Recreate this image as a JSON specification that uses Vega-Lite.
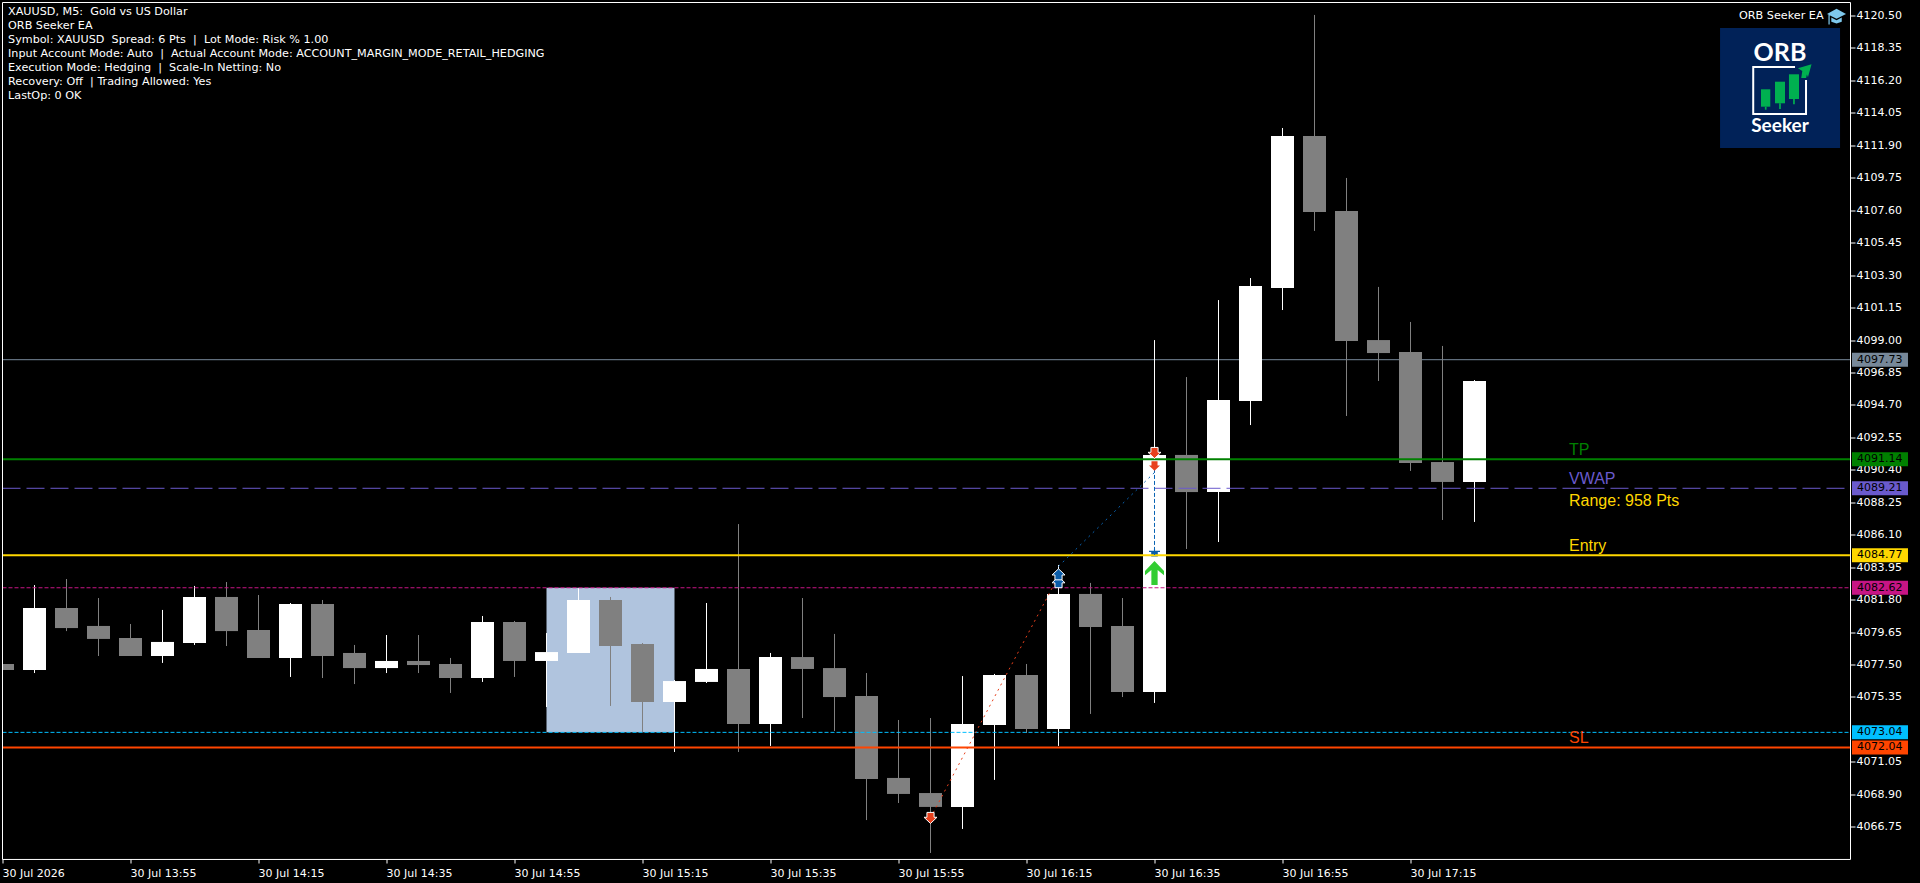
{
"$schema":"https://vega.github.io/schema/vega-lite/v6.json",
"width":1920,"height":883,"padding":0,"autosize":{"type":"none"},
"background":"#000000",
"config":{"view":{"stroke":null},"font":"DejaVu Sans","text":{"font":"DejaVu Sans"},"scale":{"continuousPadding":0}},
"datasets":{
"candles":[
{"t":"2026-07-30T13:35:00Z","o":4077.57,"h":4077.57,"l":4077.17,"c":4077.17},
{"t":"2026-07-30T13:40:00Z","o":4077.17,"h":4082.80,"l":4076.97,"c":4081.28},
{"t":"2026-07-30T13:45:00Z","o":4081.28,"h":4083.20,"l":4079.75,"c":4079.95},
{"t":"2026-07-30T13:50:00Z","o":4080.09,"h":4081.94,"l":4078.10,"c":4079.23},
{"t":"2026-07-30T13:55:00Z","o":4079.29,"h":4080.22,"l":4078.10,"c":4078.10},
{"t":"2026-07-30T14:00:00Z","o":4078.10,"h":4081.15,"l":4077.64,"c":4079.03},
{"t":"2026-07-30T14:05:00Z","o":4078.96,"h":4082.74,"l":4078.83,"c":4082.01},
{"t":"2026-07-30T14:10:00Z","o":4082.01,"h":4083.00,"l":4078.76,"c":4079.75},
{"t":"2026-07-30T14:15:00Z","o":4079.82,"h":4082.14,"l":4077.97,"c":4077.97},
{"t":"2026-07-30T14:20:00Z","o":4077.97,"h":4081.61,"l":4076.71,"c":4081.54},
{"t":"2026-07-30T14:25:00Z","o":4081.54,"h":4081.81,"l":4076.64,"c":4078.10},
{"t":"2026-07-30T14:30:00Z","o":4078.30,"h":4078.83,"l":4076.24,"c":4077.30},
{"t":"2026-07-30T14:35:00Z","o":4077.30,"h":4079.49,"l":4076.97,"c":4077.77},
{"t":"2026-07-30T14:40:00Z","o":4077.77,"h":4079.49,"l":4076.97,"c":4077.50},
{"t":"2026-07-30T14:45:00Z","o":4077.57,"h":4077.97,"l":4075.65,"c":4076.64},
{"t":"2026-07-30T14:50:00Z","o":4076.64,"h":4080.75,"l":4076.38,"c":4080.35},
{"t":"2026-07-30T14:55:00Z","o":4080.35,"h":4080.42,"l":4076.71,"c":4077.77},
{"t":"2026-07-30T15:00:00Z","o":4077.77,"h":4079.62,"l":4074.72,"c":4078.36},
{"t":"2026-07-30T15:05:00Z","o":4078.30,"h":4082.60,"l":4078.30,"c":4081.81},
{"t":"2026-07-30T15:10:00Z","o":4081.81,"h":4082.01,"l":4074.79,"c":4078.76},
{"t":"2026-07-30T15:15:00Z","o":4078.89,"h":4078.96,"l":4073.06,"c":4075.05},
{"t":"2026-07-30T15:20:00Z","o":4075.05,"h":4076.51,"l":4071.74,"c":4076.44},
{"t":"2026-07-30T15:25:00Z","o":4076.38,"h":4081.61,"l":4076.31,"c":4077.24},
{"t":"2026-07-30T15:30:00Z","o":4077.24,"h":4086.84,"l":4071.74,"c":4073.59},
{"t":"2026-07-30T15:35:00Z","o":4073.59,"h":4078.30,"l":4072.14,"c":4078.03},
{"t":"2026-07-30T15:40:00Z","o":4078.03,"h":4081.94,"l":4073.99,"c":4077.24},
{"t":"2026-07-30T15:45:00Z","o":4077.30,"h":4079.56,"l":4073.13,"c":4075.38},
{"t":"2026-07-30T15:50:00Z","o":4075.45,"h":4076.97,"l":4067.23,"c":4069.95},
{"t":"2026-07-30T15:55:00Z","o":4070.02,"h":4073.86,"l":4068.36,"c":4068.96},
{"t":"2026-07-30T16:00:00Z","o":4069.02,"h":4073.99,"l":4065.05,"c":4068.10},
{"t":"2026-07-30T16:05:00Z","o":4068.10,"h":4076.77,"l":4066.64,"c":4073.59},
{"t":"2026-07-30T16:10:00Z","o":4073.53,"h":4076.91,"l":4069.89,"c":4076.84},
{"t":"2026-07-30T16:15:00Z","o":4076.84,"h":4077.57,"l":4073.00,"c":4073.26},
{"t":"2026-07-30T16:20:00Z","o":4073.26,"h":4084.13,"l":4072.14,"c":4082.21},
{"t":"2026-07-30T16:25:00Z","o":4082.21,"h":4082.94,"l":4074.26,"c":4080.02},
{"t":"2026-07-30T16:30:00Z","o":4080.09,"h":4081.94,"l":4075.38,"c":4075.71},
{"t":"2026-07-30T16:35:00Z","o":4075.71,"h":4099.03,"l":4074.99,"c":4091.42},
{"t":"2026-07-30T16:40:00Z","o":4091.42,"h":4096.58,"l":4085.19,"c":4088.96},
{"t":"2026-07-30T16:45:00Z","o":4088.96,"h":4101.68,"l":4085.65,"c":4095.06},
{"t":"2026-07-30T16:50:00Z","o":4095.00,"h":4103.14,"l":4093.40,"c":4102.61},
{"t":"2026-07-30T16:55:00Z","o":4102.48,"h":4113.08,"l":4101.02,"c":4112.55},
{"t":"2026-07-30T17:00:00Z","o":4112.55,"h":4120.57,"l":4106.26,"c":4107.51},
{"t":"2026-07-30T17:05:00Z","o":4107.58,"h":4109.77,"l":4094.00,"c":4098.97},
{"t":"2026-07-30T17:10:00Z","o":4099.03,"h":4102.55,"l":4096.32,"c":4098.17},
{"t":"2026-07-30T17:15:00Z","o":4098.24,"h":4100.23,"l":4090.36,"c":4090.89},
{"t":"2026-07-30T17:20:00Z","o":4090.95,"h":4098.64,"l":4087.11,"c":4089.63},
{"t":"2026-07-30T17:25:00Z","o":4089.63,"h":4096.38,"l":4086.98,"c":4096.32}
],
"levels":[
{"level":"Price","p":4097.73},
{"level":"TP","p":4091.14},
{"level":"VWAP","p":4089.21},
{"level":"Entry","p":4084.77},
{"level":"RangeHigh","p":4082.62},
{"level":"RangeLow","p":4073.04},
{"level":"SL","p":4072.04}
]
},
"layer":[
{"data":{"values":[{"level":"Opening range"}]},
 "mark":{"type":"rect","color":"#B0C4DE"},
 "encoding":{
  "x":{"datum":{"year":2026,"month":7,"date":30,"hours":15,"minutes":0,"utc":true},"type":"temporal","scale":{"type":"utc","domain":[1785418476562.5,1785436476562.5],"range":[0,1920],"nice":false}},
  "x2":{"datum":{"year":2026,"month":7,"date":30,"hours":15,"minutes":20,"utc":true}},
  "y":{"datum":4082.62,"type":"quantitative","scale":{"domain":[4063.06,4121.56],"range":[883,0],"nice":false,"zero":false}},
  "y2":{"datum":4073.04}}},
{"data":{"name":"levels"},"transform":[{"filter":"datum.level=='Price'"}],
 "mark":{"type":"rule","strokeWidth":1,"color":"#778899"},
 "encoding":{
  "x":{"datum":{"year":2026,"month":7,"date":30,"hours":13,"minutes":35,"utc":true},"type":"temporal","scale":{"type":"utc","domain":[1785418476562.5,1785436476562.5],"range":[0,1920],"nice":false}},
  "x2":{"datum":{"year":2026,"month":7,"date":30,"hours":18,"minutes":23,"seconds":40,"utc":true}},
  "y":{"field":"p","type":"quantitative","scale":{"domain":[4063.06,4121.56],"range":[883,0],"nice":false,"zero":false}}}},
{"data":{"name":"candles"},
 "mark":{"type":"rule","strokeWidth":1},
 "encoding":{
  "x":{"field":"t","type":"temporal","scale":{"type":"utc","domain":[1785418476562.5,1785436476562.5],"range":[0,1920],"nice":false},
   "axis":{"orient":"bottom","offset":-23.5,"title":null,"grid":false,"domain":false,"translate":0,"tickColor":"#ffffff","tickSize":4,"tickWidth":1,"labelColor":"#ffffff","labelFont":"DejaVu Sans","labelFontSize":11,"labelAlign":"left","labelBaseline":"top","labelPadding":4,"labelOverlap":false,"labelFlush":false,"labelBound":false,
    "values":[{"year":2026,"month":7,"date":30,"hours":13,"minutes":35,"utc":true},{"year":2026,"month":7,"date":30,"hours":13,"minutes":55,"utc":true},{"year":2026,"month":7,"date":30,"hours":14,"minutes":15,"utc":true},{"year":2026,"month":7,"date":30,"hours":14,"minutes":35,"utc":true},{"year":2026,"month":7,"date":30,"hours":14,"minutes":55,"utc":true},{"year":2026,"month":7,"date":30,"hours":15,"minutes":15,"utc":true},{"year":2026,"month":7,"date":30,"hours":15,"minutes":35,"utc":true},{"year":2026,"month":7,"date":30,"hours":15,"minutes":55,"utc":true},{"year":2026,"month":7,"date":30,"hours":16,"minutes":15,"utc":true},{"year":2026,"month":7,"date":30,"hours":16,"minutes":35,"utc":true},{"year":2026,"month":7,"date":30,"hours":16,"minutes":55,"utc":true},{"year":2026,"month":7,"date":30,"hours":17,"minutes":15,"utc":true}],
    "labelExpr":"utcFormat(datum.value,'%H:%M')=='13:35' ? '30 Jul 2026' : utcFormat(datum.value,'%d %b %H:%M')"}},
  "y":{"field":"h","type":"quantitative","scale":{"domain":[4063.06,4121.56],"range":[883,0],"nice":false,"zero":false},
   "axis":{"orient":"right","offset":-69.5,"title":null,"grid":false,"domain":false,"translate":0,"tickCount":40,"tickColor":"#ffffff","tickSize":5,"tickWidth":1,"labelColor":"#ffffff","labelFont":"DejaVu Sans","labelFontSize":11,"labelAlign":"left","labelBaseline":"middle","labelPadding":1,"labelOverlap":false,"labelFlush":false,"labelBound":false,"format":".2f",
    "values":[4120.50,4118.35,4116.20,4114.05,4111.90,4109.75,4107.60,4105.45,4103.30,4101.15,4099.00,4096.85,4094.70,4092.55,4090.40,4088.25,4086.10,4083.95,4081.80,4079.65,4077.50,4075.35,4071.05,4068.90,4066.75]}},
  "y2":{"field":"l"},
  "color":{"condition":{"test":"datum.c>=datum.o","value":"#ffffff"},"value":"#808080"}}},
{"data":{"name":"candles"},
 "mark":{"type":"bar","size":23,"orient":"vertical"},
 "encoding":{
  "x":{"field":"t","type":"temporal","scale":{"type":"utc","domain":[1785418476562.5,1785436476562.5],"range":[0,1920],"nice":false}},
  "y":{"field":"o","type":"quantitative","scale":{"domain":[4063.06,4121.56],"range":[883,0],"nice":false,"zero":false}},
  "y2":{"field":"c"},
  "color":{"condition":{"test":"datum.c>=datum.o","value":"#ffffff"},"value":"#808080"}}},
{"data":{"values":[{"t":"2026-07-30T16:35:00Z","p":4084.95}]},
 "mark":{"type":"point","filled":true,"opacity":1,"size":121,"color":"#0A5CA8","strokeWidth":0,"shape":"M0,-0.7 L0.1,-0.7 L0.1,-0.35 L1,-0.35 L1,-0.1 L0.6,-0.1 L0.6,0.7 L-0.6,0.7 L-0.6,-0.1 L-1,-0.1 L-1,-0.35 L-0.1,-0.35 L-0.1,-0.7 Z"},
 "encoding":{
  "x":{"field":"t","type":"temporal","scale":{"type":"utc","domain":[1785418476562.5,1785436476562.5],"range":[0,1920],"nice":false}},
  "y":{"field":"p","type":"quantitative","scale":{"domain":[4063.06,4121.56],"range":[883,0],"nice":false,"zero":false}}}},
{"data":{"name":"levels"},"transform":[{"filter":"datum.level=='TP'||datum.level=='Entry'||datum.level=='SL'"}],
 "mark":{"type":"rule","strokeWidth":2},
 "encoding":{
  "x":{"datum":{"year":2026,"month":7,"date":30,"hours":13,"minutes":35,"utc":true},"type":"temporal","scale":{"type":"utc","domain":[1785418476562.5,1785436476562.5],"range":[0,1920],"nice":false}},
  "x2":{"datum":{"year":2026,"month":7,"date":30,"hours":18,"minutes":23,"seconds":40,"utc":true}},
  "y":{"field":"p","type":"quantitative","scale":{"domain":[4063.06,4121.56],"range":[883,0],"nice":false,"zero":false}},
  "color":{"field":"level","type":"nominal","legend":null,"scale":{"domain":["Price","TP","VWAP","Entry","RangeHigh","RangeLow","SL"],"range":["#778899","#008000","#6A5ACD","#FFD700","#C71585","#00BFFF","#FF4500"]}}}},
{"data":{"name":"levels"},"transform":[{"filter":"datum.level=='VWAP'"}],
 "mark":{"type":"rule","strokeWidth":1,"strokeDash":[18,6]},
 "encoding":{
  "x":{"datum":{"year":2026,"month":7,"date":30,"hours":13,"minutes":35,"utc":true},"type":"temporal","scale":{"type":"utc","domain":[1785418476562.5,1785436476562.5],"range":[0,1920],"nice":false}},
  "x2":{"datum":{"year":2026,"month":7,"date":30,"hours":18,"minutes":23,"seconds":40,"utc":true}},
  "y":{"field":"p","type":"quantitative","scale":{"domain":[4063.06,4121.56],"range":[883,0],"nice":false,"zero":false}},
  "color":{"field":"level","type":"nominal","legend":null,"scale":{"domain":["Price","TP","VWAP","Entry","RangeHigh","RangeLow","SL"],"range":["#778899","#008000","#6A5ACD","#FFD700","#C71585","#00BFFF","#FF4500"]}}}},
{"data":{"name":"levels"},"transform":[{"filter":"datum.level=='RangeHigh'||datum.level=='RangeLow'"}],
 "mark":{"type":"rule","strokeWidth":1,"strokeDash":[4,2]},
 "encoding":{
  "x":{"datum":{"year":2026,"month":7,"date":30,"hours":13,"minutes":35,"utc":true},"type":"temporal","scale":{"type":"utc","domain":[1785418476562.5,1785436476562.5],"range":[0,1920],"nice":false}},
  "x2":{"datum":{"year":2026,"month":7,"date":30,"hours":18,"minutes":23,"seconds":40,"utc":true}},
  "y":{"field":"p","type":"quantitative","scale":{"domain":[4063.06,4121.56],"range":[883,0],"nice":false,"zero":false}},
  "color":{"field":"level","type":"nominal","legend":null,"scale":{"domain":["Price","TP","VWAP","Entry","RangeHigh","RangeLow","SL"],"range":["#778899","#008000","#6A5ACD","#FFD700","#C71585","#00BFFF","#FF4500"]}}}},
{"data":{"values":[{"t":"2026-07-30T16:00:00Z","p":4067.37},{"t":"2026-07-30T16:20:00Z","p":4083.40}]},
 "mark":{"type":"line","color":"#E8401C","strokeWidth":1,"strokeDash":[2,4]},
 "encoding":{
  "x":{"field":"t","type":"temporal","scale":{"type":"utc","domain":[1785418476562.5,1785436476562.5],"range":[0,1920],"nice":false}},
  "y":{"field":"p","type":"quantitative","scale":{"domain":[4063.06,4121.56],"range":[883,0],"nice":false,"zero":false}}}},
{"data":{"values":[{"t":"2026-07-30T16:20:00Z","p":4084.04},{"t":"2026-07-30T16:35:00Z","p":4090.26}]},
 "mark":{"type":"line","color":"#0A64B4","strokeWidth":1,"strokeDash":[2,4]},
 "encoding":{
  "x":{"field":"t","type":"temporal","scale":{"type":"utc","domain":[1785418476562.5,1785436476562.5],"range":[0,1920],"nice":false}},
  "y":{"field":"p","type":"quantitative","scale":{"domain":[4063.06,4121.56],"range":[883,0],"nice":false,"zero":false}}}},
{"data":{"values":[{"t":"2026-07-30T16:35:00Z","p":4090.89},{"t":"2026-07-30T16:35:00Z","p":4084.79}]},
 "mark":{"type":"line","color":"#0A64B4","strokeWidth":1,"strokeDash":[4,2]},
 "encoding":{
  "x":{"field":"t","type":"temporal","scale":{"type":"utc","domain":[1785418476562.5,1785436476562.5],"range":[0,1920],"nice":false}},
  "y":{"field":"p","type":"quantitative","scale":{"domain":[4063.06,4121.56],"range":[883,0],"nice":false,"zero":false}}}},
{"data":{"values":[{"t":"2026-07-30T16:00:00Z","p":4067.37},{"t":"2026-07-30T16:35:00Z","p":4091.55}]},
 "mark":{"type":"point","filled":true,"opacity":1,"size":169,"color":"#E8401C","stroke":"#ffffff","strokeWidth":1,"shape":"M-0.55,-0.85 L0.55,-0.85 L0.55,-0.1 L1,-0.1 L0,0.85 L-1,-0.1 L-0.55,-0.1 Z"},
 "encoding":{
  "x":{"field":"t","type":"temporal","scale":{"type":"utc","domain":[1785418476562.5,1785436476562.5],"range":[0,1920],"nice":false}},
  "y":{"field":"p","type":"quantitative","scale":{"domain":[4063.06,4121.56],"range":[883,0],"nice":false,"zero":false}}}},
{"data":{"values":[{"t":"2026-07-30T16:35:00Z","p":4090.69}]},
 "mark":{"type":"point","filled":true,"opacity":1,"size":121,"color":"#E8401C","strokeWidth":0,"shape":"M-0.55,-0.85 L0.55,-0.85 L0.55,-0.1 L1,-0.1 L0,0.85 L-1,-0.1 L-0.55,-0.1 Z"},
 "encoding":{
  "x":{"field":"t","type":"temporal","scale":{"type":"utc","domain":[1785418476562.5,1785436476562.5],"range":[0,1920],"nice":false}},
  "y":{"field":"p","type":"quantitative","scale":{"domain":[4063.06,4121.56],"range":[883,0],"nice":false,"zero":false}}}},
{"data":{"values":[{"t":"2026-07-30T16:20:00Z","p":4082.99},{"t":"2026-07-30T16:20:00Z","p":4083.51}]},
 "mark":{"type":"point","filled":true,"opacity":1,"size":169,"color":"#0A5CA8","stroke":"#ffffff","strokeWidth":1,"shape":"M0,-0.85 L1,0.1 L0.55,0.1 L0.55,0.85 L-0.55,0.85 L-0.55,0.1 L-1,0.1 Z"},
 "encoding":{
  "x":{"field":"t","type":"temporal","scale":{"type":"utc","domain":[1785418476562.5,1785436476562.5],"range":[0,1920],"nice":false}},
  "y":{"field":"p","type":"quantitative","scale":{"domain":[4063.06,4121.56],"range":[883,0],"nice":false,"zero":false}}}},
{"data":{"values":[{"t":"2026-07-30T16:35:00Z","p":4083.60}]},
 "mark":{"type":"point","filled":true,"opacity":1,"size":361,"color":"#32CD32","strokeWidth":0,"shape":"M0,-1.26 L1,-0.2 L1,0.25 L0.33,-0.3 L0.33,1.26 L-0.33,1.26 L-0.33,-0.3 L-1,0.25 L-1,-0.2 Z"},
 "encoding":{
  "x":{"field":"t","type":"temporal","scale":{"type":"utc","domain":[1785418476562.5,1785436476562.5],"range":[0,1920],"nice":false}},
  "y":{"field":"p","type":"quantitative","scale":{"domain":[4063.06,4121.56],"range":[883,0],"nice":false,"zero":false}}}},
{"data":{"values":[{"text":"TP","p":4091.42,"level":"TP"},{"text":"VWAP","p":4089.51,"level":"VWAP"},{"text":"Range: 958 Pts","p":4088.04,"level":"Entry"},{"text":"Entry","p":4085.08,"level":"Entry"},{"text":"SL","p":4072.32,"level":"SL"}]},
 "mark":{"type":"text","align":"left","baseline":"alphabetic","font":"Liberation Sans","fontSize":16},
 "encoding":{
  "x":{"datum":{"year":2026,"month":7,"date":30,"hours":17,"minutes":39,"seconds":46,"utc":true},"type":"temporal","scale":{"type":"utc","domain":[1785418476562.5,1785436476562.5],"range":[0,1920],"nice":false}},
  "y":{"field":"p","type":"quantitative","scale":{"domain":[4063.06,4121.56],"range":[883,0],"nice":false,"zero":false}},
  "text":{"field":"text"},
  "color":{"field":"level","type":"nominal","legend":null,"scale":{"domain":["Price","TP","VWAP","Entry","RangeHigh","RangeLow","SL"],"range":["#778899","#008000","#6A5ACD","#FFD700","#C71585","#00BFFF","#FF4500"]}}}},
{"data":{"name":"levels"},
 "mark":{"type":"rule","strokeWidth":14},
 "encoding":{
  "x":{"datum":{"year":2026,"month":7,"date":30,"hours":18,"minutes":23,"seconds":59,"utc":true},"type":"temporal","scale":{"type":"utc","domain":[1785418476562.5,1785436476562.5],"range":[0,1920],"nice":false}},
  "x2":{"datum":{"year":2026,"month":7,"date":30,"hours":18,"minutes":32,"seconds":44,"utc":true}},
  "y":{"field":"p","type":"quantitative","scale":{"domain":[4063.06,4121.56],"range":[883,0],"nice":false,"zero":false}},
  "color":{"field":"level","type":"nominal","legend":null,"scale":{"domain":["Price","TP","VWAP","Entry","RangeHigh","RangeLow","SL"],"range":["#778899","#008000","#6A5ACD","#FFD700","#C71585","#00BFFF","#FF4500"]}}}},
{"data":{"name":"levels"},
 "mark":{"type":"text","align":"left","baseline":"middle","font":"DejaVu Sans","fontSize":11,"color":"#000000"},
 "encoding":{
  "x":{"datum":{"year":2026,"month":7,"date":30,"hours":18,"minutes":24,"seconds":46,"utc":true},"type":"temporal","scale":{"type":"utc","domain":[1785418476562.5,1785436476562.5],"range":[0,1920],"nice":false}},
  "y":{"field":"p","type":"quantitative","scale":{"domain":[4063.06,4121.56],"range":[883,0],"nice":false,"zero":false}},
  "text":{"field":"p","format":".2f"}}},
{"data":{"values":[{"text":"XAUUSD, M5:\u00a0 Gold vs US Dollar","p":4120.77},{"text":"ORB Seeker EA","p":4119.84},{"text":"Symbol: XAUUSD\u00a0 Spread: 6 Pts\u00a0 |\u00a0 Lot Mode: Risk % 1.00","p":4118.91},{"text":"Input Account Mode: Auto\u00a0 |\u00a0 Actual Account Mode: ACCOUNT_MARGIN_MODE_RETAIL_HEDGING","p":4117.98},{"text":"Execution Mode: Hedging\u00a0 |\u00a0 Scale-In Netting: No","p":4117.05},{"text":"Recovery: Off\u00a0 | Trading Allowed: Yes","p":4116.13},{"text":"LastOp: 0 OK","p":4115.20}]},
 "mark":{"type":"text","align":"left","baseline":"middle","font":"DejaVu Sans","fontSize":11.2,"color":"#ffffff"},
 "encoding":{
  "x":{"datum":{"year":2026,"month":7,"date":30,"hours":13,"minutes":35,"seconds":52,"utc":true},"type":"temporal","scale":{"type":"utc","domain":[1785418476562.5,1785436476562.5],"range":[0,1920],"nice":false}},
  "y":{"field":"p","type":"quantitative","scale":{"domain":[4063.06,4121.56],"range":[883,0],"nice":false,"zero":false}},
  "text":{"field":"text"}}},
{"data":{"values":[{"text":"ORB Seeker EA","p":4120.48}]},
 "mark":{"type":"text","align":"left","baseline":"middle","font":"DejaVu Sans","fontSize":11.2,"color":"#ffffff"},
 "encoding":{
  "x":{"datum":{"year":2026,"month":7,"date":30,"hours":18,"minutes":6,"seconds":20,"utc":true},"type":"temporal","scale":{"type":"utc","domain":[1785418476562.5,1785436476562.5],"range":[0,1920],"nice":false}},
  "y":{"field":"p","type":"quantitative","scale":{"domain":[4063.06,4121.56],"range":[883,0],"nice":false,"zero":false}},
  "text":{"field":"text"}}},
{"data":{"values":[{"t":"2026-07-30T18:21:34Z","p":4120.5}]},
 "mark":{"type":"point","filled":true,"opacity":1,"size":361,"color":"#7EC8EC","strokeWidth":0,"shape":"M-1,-0.2 L0,-0.75 L1,-0.2 L0,0.3 Z M-0.55,0.15 L0,0.45 L0.55,0.15 L0.55,0.6 L0,0.8 L-0.55,0.6 Z M-0.85,-0.1 L-0.72,-0.1 L-0.72,0.9 L-0.85,0.9 Z"},
 "encoding":{
  "x":{"field":"t","type":"temporal","scale":{"type":"utc","domain":[1785418476562.5,1785436476562.5],"range":[0,1920],"nice":false}},
  "y":{"field":"p","type":"quantitative","scale":{"domain":[4063.06,4121.56],"range":[883,0],"nice":false,"zero":false}}}},
{"data":{"values":[{"part":"logo"}]},
 "mark":{"type":"rect","color":"#012258"},
 "encoding":{
  "x":{"datum":{"year":2026,"month":7,"date":30,"hours":18,"minutes":3,"seconds":22,"utc":true},"type":"temporal","scale":{"type":"utc","domain":[1785418476562.5,1785436476562.5],"range":[0,1920],"nice":false}},
  "x2":{"datum":{"year":2026,"month":7,"date":30,"hours":18,"minutes":22,"seconds":7,"utc":true}},
  "y":{"datum":4119.705,"type":"quantitative","scale":{"domain":[4063.06,4121.56],"range":[883,0],"nice":false,"zero":false}},
  "y2":{"datum":4111.755}}},
{"data":{"values":[
 {"t":"2026-07-30T18:16:48Z","p":4116.26,"k":1},
 {"t":"2026-07-30T18:16:48Z","p":4114.0,"k":2},
 {"t":"2026-07-30T18:08:33Z","p":4114.0,"k":3},
 {"t":"2026-07-30T18:08:33Z","p":4117.121,"k":4},
 {"t":"2026-07-30T18:15:05Z","p":4117.121,"k":5}]},
 "mark":{"type":"line","color":"#ffffff","strokeWidth":2},
 "encoding":{
  "x":{"field":"t","type":"temporal","scale":{"type":"utc","domain":[1785418476562.5,1785436476562.5],"range":[0,1920],"nice":false}},
  "y":{"field":"p","type":"quantitative","scale":{"domain":[4063.06,4121.56],"range":[883,0],"nice":false,"zero":false}},
  "order":{"field":"k"}}},
{"data":{"values":[
 {"t":"2026-07-30T18:09:46Z","t2":"2026-07-30T18:11:13Z","p":4115.644,"p2":4114.491},
 {"t":"2026-07-30T18:10:22Z","t2":"2026-07-30T18:10:38Z","p":4114.491,"p2":4114.292},
 {"t":"2026-07-30T18:11:57Z","t2":"2026-07-30T18:13:31Z","p":4116.147,"p2":4114.716},
 {"t":"2026-07-30T18:12:36Z","t2":"2026-07-30T18:12:52Z","p":4114.716,"p2":4114.339},
 {"t":"2026-07-30T18:14:08Z","t2":"2026-07-30T18:15:42Z","p":4116.638,"p2":4114.999},
 {"t":"2026-07-30T18:14:47Z","t2":"2026-07-30T18:15:03Z","p":4114.999,"p2":4114.650}]},
 "mark":{"type":"rect","color":"#00B050"},
 "encoding":{
  "x":{"field":"t","type":"temporal","scale":{"type":"utc","domain":[1785418476562.5,1785436476562.5],"range":[0,1920],"nice":false}},
  "x2":{"field":"t2"},
  "y":{"field":"p","type":"quantitative","scale":{"domain":[4063.06,4121.56],"range":[883,0],"nice":false,"zero":false}},
  "y2":{"field":"p2"}}},
{"data":{"values":[{"t":"2026-07-30T18:16:36Z","p":4116.86}]},
 "mark":{"type":"point","filled":true,"opacity":1,"size":196,"color":"#00B050","strokeWidth":0,"shape":"M0.97,-0.96 L-0.97,-0.39 L-0.35,0 L-0.5,1 L0.2,1 L0.3,0.5 L0.46,0.89 Z"},
 "encoding":{
  "x":{"field":"t","type":"temporal","scale":{"type":"utc","domain":[1785418476562.5,1785436476562.5],"range":[0,1920],"nice":false}},
  "y":{"field":"p","type":"quantitative","scale":{"domain":[4063.06,4121.56],"range":[883,0],"nice":false,"zero":false}}}},
{"data":{"values":[{"text":"ORB","p":4118.05}]},
 "mark":{"type":"text","align":"center","baseline":"middle","font":"Lato","fontWeight":"bold","fontSize":25,"color":"#ffffff"},
 "encoding":{
  "x":{"datum":{"year":2026,"month":7,"date":30,"hours":18,"minutes":12,"seconds":44,"utc":true},"type":"temporal","scale":{"type":"utc","domain":[1785418476562.5,1785436476562.5],"range":[0,1920],"nice":false}},
  "y":{"field":"p","type":"quantitative","scale":{"domain":[4063.06,4121.56],"range":[883,0],"nice":false,"zero":false}},
  "text":{"field":"text"}}},
{"data":{"values":[{"text":"Seeker","p":4113.21}]},
 "mark":{"type":"text","align":"center","baseline":"middle","font":"Lato","fontWeight":"bold","fontSize":19,"color":"#ffffff"},
 "encoding":{
  "x":{"datum":{"year":2026,"month":7,"date":30,"hours":18,"minutes":12,"seconds":44,"utc":true},"type":"temporal","scale":{"type":"utc","domain":[1785418476562.5,1785436476562.5],"range":[0,1920],"nice":false}},
  "y":{"field":"p","type":"quantitative","scale":{"domain":[4063.06,4121.56],"range":[883,0],"nice":false,"zero":false}},
  "text":{"field":"text"}}},
{"data":{"values":[{"part":"mask"}]},
 "mark":{"type":"rect","color":"#000000"},
 "encoding":{
  "x":{"datum":{"year":2026,"month":7,"date":30,"hours":13,"minutes":34,"seconds":30,"utc":true},"type":"temporal","scale":{"type":"utc","domain":[1785418476562.5,1785436476562.5],"range":[0,1920],"nice":false}},
  "x2":{"datum":{"year":2026,"month":7,"date":30,"hours":13,"minutes":35,"utc":true}},
  "y":{"datum":4121.56,"type":"quantitative","scale":{"domain":[4063.06,4121.56],"range":[883,0],"nice":false,"zero":false}},
  "y2":{"datum":4064.62}}},
{"data":{"values":[{"part":"frame"}]},
 "mark":{"type":"rect","fillOpacity":0,"fill":"#000000","stroke":"#ffffff","strokeWidth":1},
 "encoding":{
  "x":{"datum":{"year":2026,"month":7,"date":30,"hours":13,"minutes":35,"utc":true},"type":"temporal","scale":{"type":"utc","domain":[1785418476562.5,1785436476562.5],"range":[0,1920],"nice":false}},
  "x2":{"datum":{"year":2026,"month":7,"date":30,"hours":18,"minutes":23,"seconds":45,"utc":true}},
  "y":{"datum":4121.394,"type":"quantitative","scale":{"domain":[4063.06,4121.56],"range":[883,0],"nice":false,"zero":false}},
  "y2":{"datum":4064.62}}}
]
}
